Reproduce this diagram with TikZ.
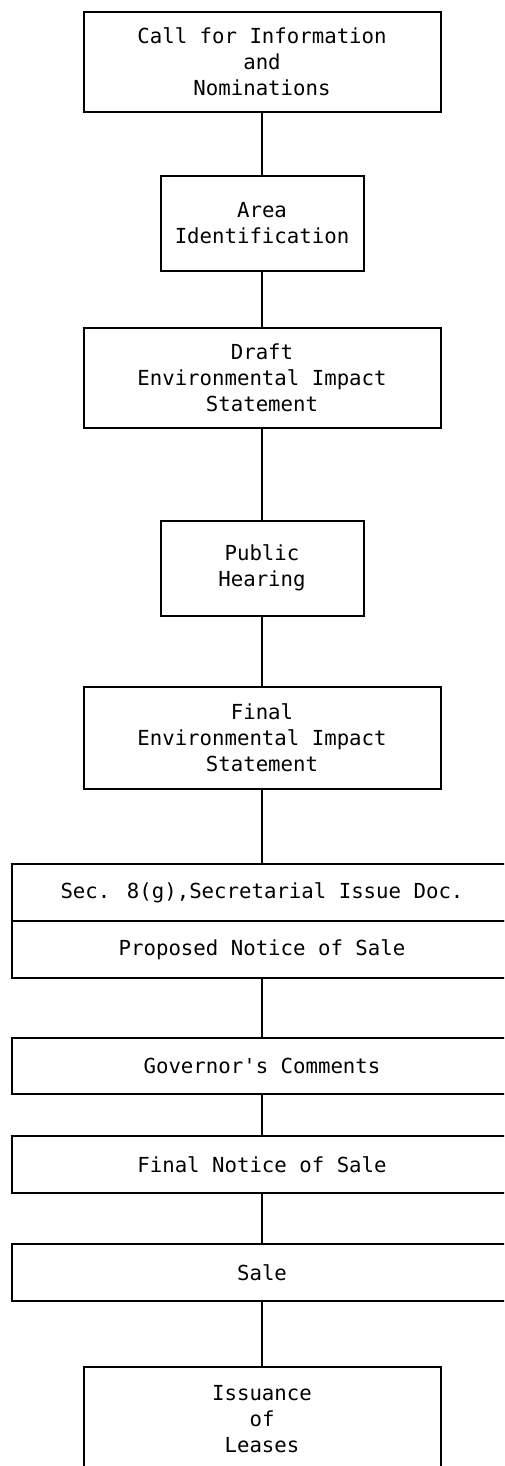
\documentclass[tikz,border=0pt]{standalone}
\usepackage{fontspec}
\newfontfamily\plotfont{DejaVu Sans Mono}
\begin{document}
\begin{tikzpicture}[x=1pt,y=-1pt,
  box/.style={draw, line width=2pt, inner sep=0pt, align=center,
    font=\plotfont\fontsize{20.7}{26}\selectfont},
  midbox/.style={box, minimum width=357pt},
  smallbox/.style={box, minimum width=203pt, minimum height=95pt},
  widebox/.style={box, minimum width=500pt, minimum height=57pt},
  link/.style={line width=2pt}]
\useasboundingbox (0,0) rectangle (504,1466);
\clip (0,0) rectangle (504,1466);
\node[midbox, minimum height=100pt] (n1) at (262,62) {Call for Information\\and\\Nominations};
\node[smallbox] (n2) at (262,223.5) {Area\\Identification};
\node[midbox, minimum height=100pt] (n3) at (262,378) {Draft\\Environmental Impact\\Statement};
\node[smallbox] (n4) at (262,568) {Public\\Hearing};
\node[midbox, minimum height=102pt] (n5) at (262,738) {Final\\Environmental Impact\\Statement};
\node[widebox] (n6a) at (262,892.5) {Sec. 8(g),Secretarial Issue Doc.};
\node[widebox] (n6b) at (262,949.5) {Proposed Notice of Sale};
\node[widebox, minimum height=56pt] (n7) at (262,1066) {Governor's Comments};
\node[widebox] (n8) at (262,1164.5) {Final Notice of Sale};
\node[widebox] (n9) at (262,1272.5) {Sale};
\node[midbox, minimum height=104pt] (n10) at (262,1419) {Issuance\\of\\Leases};
\draw[link] (n1) -- (n2);
\draw[link] (n2) -- (n3);
\draw[link] (n3) -- (n4);
\draw[link] (n4) -- (n5);
\draw[link] (n5) -- (n6a);
\draw[link] (n6b) -- (n7);
\draw[link] (n7) -- (n8);
\draw[link] (n8) -- (n9);
\draw[link] (n9) -- (n10);
\end{tikzpicture}
\end{document}
